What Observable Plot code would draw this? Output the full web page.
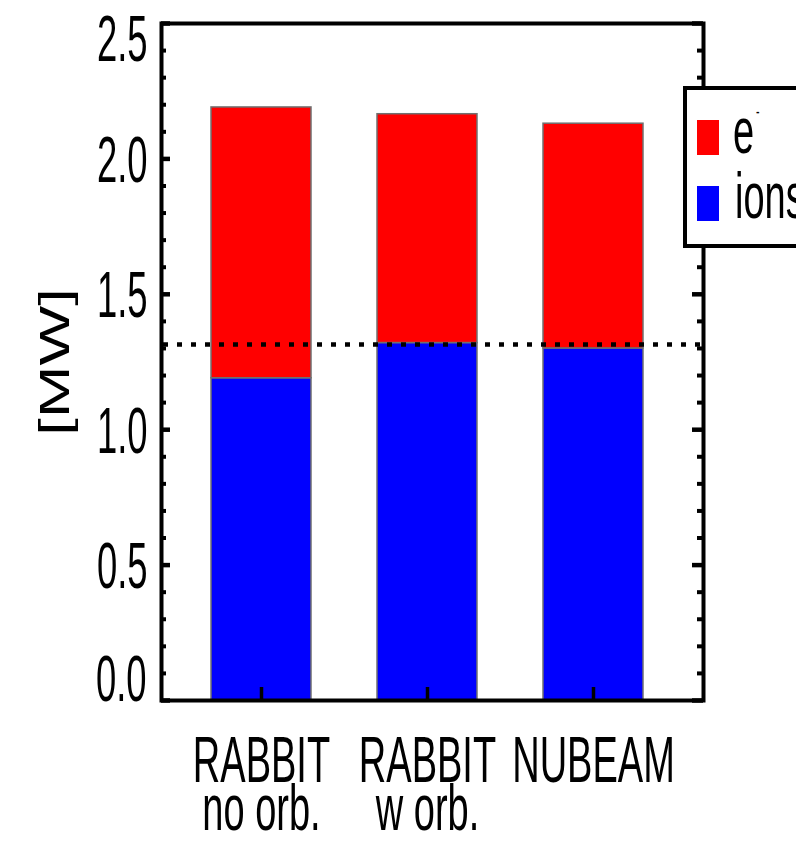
<!DOCTYPE html>
<html>
<head>
<meta charset="utf-8">
<script src="https://cdn.jsdelivr.net/npm/d3@7"></script>
<script src="https://cdn.jsdelivr.net/npm/@observablehq/plot@0.6"></script>
<style>
  html, body { margin: 0; padding: 0; background: #fff; }
  svg { display: block; }
</style>
</head>
<body>
<div id="chart"></div>
<script>
// Heating power delivered by the neutral beam, split by species [MW]
const categories = ["RABBIT no orb.", "RABBIT w orb.", "NUBEAM"];
const labelLine1 = ["RABBIT", "RABBIT", "NUBEAM"];
const labelLine2 = ["no orb.", "w orb.", ""];
const ionPower = [1.19, 1.32, 1.30];
const electronPower = [1.00, 0.845, 0.83];
const referenceLevel = 1.315;

const speciesNames = ["ions", "e-"];
const speciesColors = ["#0000ff", "#ff0000"];

const yMajorTicks = [0, 0.5, 1.0, 1.5, 2.0, 2.5];
const yMinorTicks = d3.ticks(0, 2.5, 25).filter(v => !yMajorTicks.includes(v));

// long table for stacking: ions at the bottom, electrons on top
const rows = categories.flatMap((c, i) => [
  {category: c, species: "ions", value: ionPower[i]},
  {category: c, species: "e-", value: electronPower[i]}
]);

const W = 796, H = 841;
const mL = 161, mR = 93, mT = 23, mB = 141;
const frameW = W - mL - mR;
const frameH = H - mT - mB;
const font = "'Liberation Sans', Arial, Helvetica, sans-serif";

const plot = Plot.plot({
  width: W,
  height: H,
  marginLeft: mL,
  marginRight: mR,
  marginTop: mT,
  marginBottom: mB,
  style: {background: "white", fontFamily: font, color: "black"},
  x: {type: "band", domain: categories, paddingInner: 0.4, paddingOuter: 0.326, align: 0.45, axis: null},
  y: {domain: [0, 2.5], axis: null},
  color: {domain: speciesNames, range: speciesColors},
  marks: [
    Plot.barY(rows, {x: "category", y: "value", fill: "species", stroke: "#707070", strokeWidth: 1.5}),
    Plot.ruleY([referenceLevel], {stroke: "black", strokeWidth: 4.5, strokeDasharray: "5,9", strokeDashoffset: -2}),
    Plot.frame({stroke: "black", strokeWidth: 4}),
    // inward ticks on the left axis
    Plot.tickY(yMajorTicks, {y: d => d, stroke: "black", strokeWidth: 4.5, insetRight: frameW - 9}),
    Plot.tickY(yMinorTicks, {y: d => d, stroke: "black", strokeWidth: 4, insetRight: frameW - 5}),
    // inward ticks on the right axis
    Plot.tickY(yMajorTicks, {y: d => d, stroke: "black", strokeWidth: 4.5, insetLeft: frameW - 11}),
    Plot.tickY(yMinorTicks, {y: d => d, stroke: "black", strokeWidth: 4, insetLeft: frameW - 6}),
    // ticks at the bar centres on the bottom axis
    Plot.tickX(categories, {x: d => d, stroke: "black", strokeWidth: 3.5, insetTop: frameH - 13}),
    // y tick labels
    Plot.text(yMajorTicks.slice(1, -1), {y: d => d, text: d => d.toFixed(1), frameAnchor: "left", textAnchor: "end", dx: -14, dy: 2, fontSize: 65, fill: "black"}),
    Plot.text(yMajorTicks.slice(-1), {y: d => d, text: d => d.toFixed(1), frameAnchor: "left", textAnchor: "end", dx: -14, dy: 17, fontSize: 65, fill: "black"}),
    Plot.text(yMajorTicks.slice(0, 1), {y: d => d, text: d => d.toFixed(1), frameAnchor: "left", textAnchor: "end", dx: -15, dy: -20, fontSize: 65, fill: "black"}),
    // y axis title
    Plot.text(["[MW]"], {frameAnchor: "left", textAnchor: "middle", rotate: -90, dx: -106.5, fontSize: 43, fill: "black"}),
    // category labels, two lines
    Plot.text(categories, {x: d => d, text: (d, i) => labelLine1[i], frameAnchor: "bottom", textAnchor: "middle", lineAnchor: "top", dy: 35.5, fontSize: 65, fill: "black"}),
    Plot.text(categories, {x: d => d, text: (d, i) => labelLine2[i], frameAnchor: "bottom", textAnchor: "middle", lineAnchor: "top", dy: 83.5, fontSize: 65, fill: "black"})
  ]
});

document.getElementById("chart").append(plot);

// legend box in the upper right, drawn over the right axis
const svg = d3.select(plot);
const legend = svg.append("g").attr("font-family", font).attr("text-anchor", "start");
legend.append("rect")
  .attr("x", 685).attr("y", 88).attr("width", 170).attr("height", 158)
  .attr("fill", "white").attr("stroke", "black").attr("stroke-width", 4);
const legendItems = [
  {name: "e-", color: speciesColors[1], y: 120},
  {name: "ions", color: speciesColors[0], y: 186}
];
legend.selectAll("rect.swatch").data(legendItems).join("rect")
  .attr("class", "swatch")
  .attr("x", 697).attr("y", d => d.y).attr("width", 22).attr("height", 35)
  .attr("fill", d => d.color);
const eLabel = legend.append("text").attr("transform", "translate(733,153)").attr("font-size", 65).attr("fill", "black");
eLabel.append("tspan").text("e");
eLabel.append("tspan").attr("font-size", 18).attr("dx", 3).attr("dy", -35.5).text("-");
legend.append("text").attr("transform", "translate(735,218)").attr("font-size", 65).attr("fill", "black").text("ions");

// the lettering is set in a tall, narrow face: compress horizontal text, stretch the rotated title
svg.selectAll("text").each(function() {
  const s = this.textContent.trim();
  let f = 0.585;
  if (s === "[MW]") f = 1.47;
  else if (/^\d\.\d$/.test(s)) f = 0.56;
  const t = this.getAttribute("transform") || "";
  this.setAttribute("transform", `${t} scale(${f},1)`.trim());
});
</script>
</body>
</html>
